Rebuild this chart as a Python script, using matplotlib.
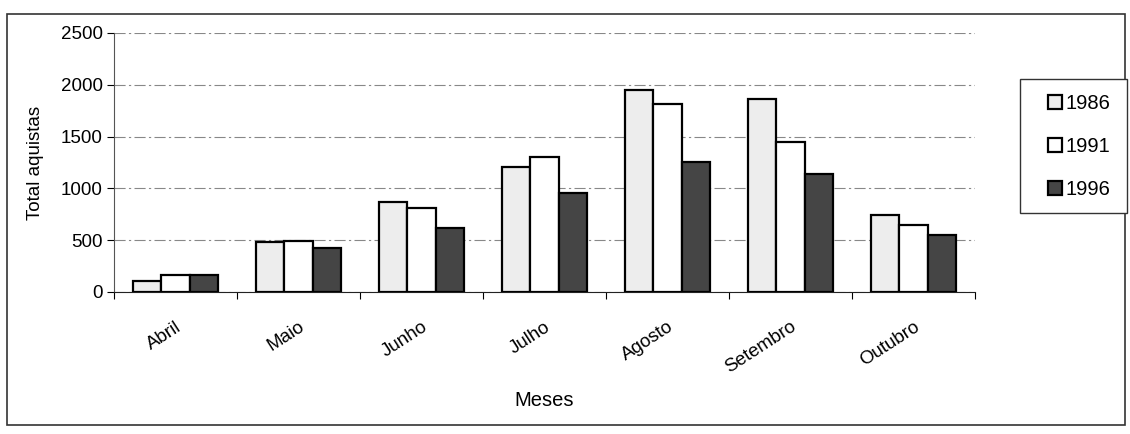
import matplotlib.pyplot as plt
import matplotlib.patches as mpatches
import numpy as np

plt.rcParams['font.family'] = ['Liberation Sans', 'DejaVu Sans']

# data
meses = ['Abril', 'Maio', 'Junho', 'Julho', 'Agosto', 'Setembro', 'Outubro']
v1986 = [110, 480, 870, 1210, 1950, 1860, 740]
v1991 = [160, 490, 810, 1300, 1810, 1450, 650]
v1996 = [165, 425, 620, 960, 1250, 1140, 555]
anos = ['1986', '1991', '1996']

cores = ['#ededed', '#ffffff', '#454545']

fig = plt.figure(figsize=(11.3, 4.34), dpi=100)
ax = fig.add_axes([114 / 1130, 1 - 292 / 434, (975 - 114) / 1130, (292 - 33) / 434])

# outer frame around the chart
fig.patches.append(mpatches.Rectangle((7 / 1130, 9 / 434), 1118 / 1130, 411 / 434,
                                      transform=fig.transFigure, fill=False,
                                      edgecolor='#333333', linewidth=1.2))

x = np.arange(len(meses))
w = 0.23
for k, (vals, cor, ano) in enumerate(zip([v1986, v1991, v1996], cores, anos)):
    ax.bar(x + (k - 1) * w, vals, width=w, color=cor, edgecolor='black',
           linewidth=1.6, label=ano, zorder=3)

ax.set_xlim(-0.5, len(meses) - 0.5)
ax.set_ylim(0, 2500)
ax.set_yticks([0, 500, 1000, 1500, 2000, 2500])
ax.yaxis.grid(True, color='#888888', linestyle=(0, (10, 3, 2, 3)), linewidth=0.8, zorder=0)

# x ticks at category boundaries, labels at centers
ax.set_xticks(np.arange(-0.5, len(meses), 1.0))
ax.set_xticklabels([])
ax.set_xticks(x, minor=True)
ax.set_xticklabels(meses, minor=True, rotation=33, ha='right', rotation_mode='anchor',
                   fontsize=13.5)
ax.tick_params(axis='x', which='minor', length=0, pad=19)
ax.tick_params(axis='x', which='major', length=5, direction='out')
ax.tick_params(axis='y', length=5, direction='out', labelsize=13.5, pad=3)

ax.spines['top'].set_visible(False)
ax.spines['right'].set_visible(False)
ax.spines['left'].set_color('#555555')
ax.spines['bottom'].set_color('#222222')

ax.set_ylabel('Total aquistas', fontsize=13.5, labelpad=12)
ax.set_xlabel('Meses', fontsize=14.5, labelpad=10)

# legend box drawn separately so it reaches the right border like the original
fig.patches.append(mpatches.Rectangle((1020 / 1130, 1 - 213 / 434), 107 / 1130, 134 / 434,
                                      transform=fig.transFigure, fill=True,
                                      facecolor='white', edgecolor='#333333',
                                      linewidth=1.0, zorder=2))
leg = fig.legend(loc='upper left', bbox_to_anchor=(1044 / 1130, 1 - 90 / 434),
                 frameon=False, fontsize=14.5,
                 handlelength=0.7, handleheight=0.7, handletextpad=0.15,
                 labelspacing=1.2, borderpad=0.2, borderaxespad=0)
leg.set_zorder(5)
for h in leg.legend_handles:
    h.set_linewidth(1.6)

plt.savefig('out.png', dpi=100)
